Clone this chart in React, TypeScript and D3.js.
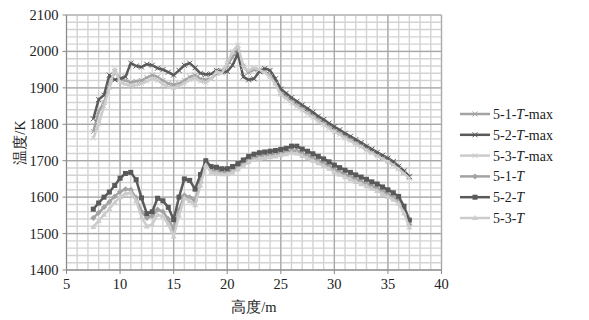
import React from "react";
import * as d3 from "d3";

const heights = [7.5,8,8.5,9,9.5,10,10.5,11,11.5,12,12.5,13,13.5,14,14.5,15,15.5,16,16.5,17,17.5,18,18.5,19,19.5,20,20.5,21,21.5,22,22.5,23,23.5,24,24.5,25,25.5,26,26.5,27,27.5,28,28.5,29,29.5,30,30.5,31,31.5,32,32.5,33,33.5,34,34.5,35,35.5,36,36.5,37];

const t51max = [1780,1835,1860,1905,1945,1925,1920,1915,1918,1920,1928,1935,1930,1920,1912,1908,1912,1920,1930,1935,1925,1922,1925,1940,1948,1962,1985,2005,1960,1942,1950,1948,1945,1935,1915,1888,1877,1866,1856,1846,1836,1826,1815,1806,1796,1786,1778,1768,1760,1751,1743,1734,1726,1717,1709,1701,1692,1680,1668,1655];
const t52max = [1815,1868,1880,1935,1922,1925,1930,1968,1960,1957,1965,1962,1954,1950,1943,1935,1948,1962,1968,1955,1940,1937,1938,1948,1944,1945,1962,1995,1930,1922,1925,1945,1953,1948,1925,1897,1885,1873,1863,1853,1843,1833,1822,1813,1803,1793,1785,1775,1767,1758,1750,1740,1732,1723,1715,1707,1698,1685,1672,1657];
const t53max = [1762,1800,1850,1900,1952,1915,1910,1905,1908,1912,1918,1925,1920,1910,1903,1900,1905,1913,1922,1928,1918,1915,1925,1945,1940,1968,2000,2018,1955,1948,1955,1950,1942,1930,1910,1882,1870,1859,1849,1839,1829,1819,1808,1799,1789,1780,1772,1762,1754,1746,1738,1729,1721,1713,1705,1697,1688,1677,1665,1652];
const t51 = [1543,1557,1572,1587,1602,1615,1622,1620,1598,1560,1543,1548,1566,1560,1540,1512,1565,1605,1600,1590,1640,1694,1674,1672,1668,1668,1674,1682,1692,1702,1708,1712,1714,1716,1718,1721,1724,1728,1727,1720,1714,1707,1700,1693,1685,1676,1669,1662,1656,1649,1643,1637,1630,1624,1616,1608,1600,1590,1563,1525];
const t52 = [1567,1584,1600,1614,1632,1652,1665,1668,1648,1598,1555,1560,1597,1590,1572,1538,1600,1650,1646,1622,1662,1700,1684,1682,1678,1678,1684,1692,1702,1712,1718,1722,1724,1726,1728,1731,1734,1740,1740,1732,1726,1719,1712,1705,1697,1688,1681,1674,1668,1661,1655,1649,1642,1636,1628,1620,1612,1602,1575,1537];
const t53 = [1518,1535,1552,1568,1585,1600,1610,1612,1590,1545,1520,1525,1552,1548,1525,1492,1550,1597,1590,1578,1632,1688,1668,1666,1663,1663,1668,1676,1686,1696,1702,1706,1708,1710,1712,1715,1718,1722,1720,1713,1707,1700,1693,1686,1678,1669,1662,1655,1649,1642,1636,1630,1623,1617,1609,1601,1593,1583,1556,1517];

const xTicks = [5,10,15,20,25,30,35,40];
const yTicks = [1400,1500,1600,1700,1800,1900,2000,2100];
const seriesNames = ["5-1-", "5-2-", "5-3-", "5-1-", "5-2-", "5-3-"];
const seriesSuffix = ["-max", "-max", "-max", "", "", ""];

const W = 589, H = 320;
const X0 = 66.5, X1 = 441.5, Y0 = 15, Y1 = 270;

const series = [
  { vals: t51max, color: "#a3a3a3", marker: "x" },
  { vals: t52max, color: "#5a5a5a", marker: "x" },
  { vals: t53max, color: "#cccccc", marker: "x" },
  { vals: t51, color: "#a3a3a3", marker: "diamond" },
  { vals: t52, color: "#5a5a5a", marker: "square" },
  { vals: t53, color: "#cccccc", marker: "triangle" },
];

function Marker({ type, x, y, color }: { type: string; x: number; y: number; color: string }) {
  if (type === "x") {
    const s = 2.5;
    return (
      <path d={`M${x - s},${y - s}L${x + s},${y + s}M${x - s},${y + s}L${x + s},${y - s}`} stroke={color} strokeWidth={1} fill="none" />
    );
  }
  if (type === "square") {
    return <rect x={x - 2.5} y={y - 2.5} width={5} height={5} fill={color} />;
  }
  if (type === "diamond") {
    const s = 3;
    return <path d={`M${x},${y - s}L${x + s},${y}L${x},${y + s}L${x - s},${y}Z`} fill={color} />;
  }
  const s = 3;
  return <path d={`M${x},${y - s}L${x + s},${y + s * 0.7}L${x - s},${y + s * 0.7}Z`} fill={color} />;
}

export default function App() {
  const x = d3.scaleLinear().domain([5, 40]).range([X0, X1]);
  const y = d3.scaleLinear().domain([1400, 2100]).range([Y1, Y0]);
  const minorX = d3.range(5, 41, 1);
  const minorY = d3.range(1400, 2101, 20);
  const line = d3.line<number>().x((_, i) => x(heights[i])).y((v) => y(v));
  const font = "'Liberation Serif', 'Times New Roman', serif";

  return (
    <svg width={W} height={H} style={{ position: "absolute", left: 0, top: 0, background: "#fff" }} fontFamily={font}>
      <rect width={W} height={H} fill="#fff" />
      {minorX.map((v) => (
        <line key={"mx" + v} x1={x(v)} x2={x(v)} y1={Y0} y2={Y1} stroke="#d3d3d3" strokeWidth={1.4} />
      ))}
      {minorY.map((v) => (
        <line key={"my" + v} x1={X0} x2={X1} y1={y(v)} y2={y(v)} stroke="#d3d3d3" strokeWidth={1.4} />
      ))}
      {xTicks.map((v) => (
        <line key={"Mx" + v} x1={x(v)} x2={x(v)} y1={Y0} y2={Y1} stroke="#a8a8a8" strokeWidth={1.2} />
      ))}
      {yTicks.map((v) => (
        <line key={"My" + v} x1={X0} x2={X1} y1={y(v)} y2={y(v)} stroke="#a8a8a8" strokeWidth={1.2} />
      ))}
      <line x1={X0} x2={X0} y1={Y0} y2={Y1} stroke="#8a8a8a" />
      <line x1={X0} x2={X1} y1={Y1} y2={Y1} stroke="#8a8a8a" />
      {xTicks.map((v) => (
        <g key={"tx" + v}>
          <line x1={x(v)} x2={x(v)} y1={Y1} y2={Y1 + 4} stroke="#8a8a8a" />
          <text x={x(v)} y={Y1 + 19} textAnchor="middle" fontSize={14.5} fill="#222">{v}</text>
        </g>
      ))}
      {yTicks.map((v) => (
        <g key={"ty" + v}>
          <line x1={X0 - 4} x2={X0} y1={y(v)} y2={y(v)} stroke="#8a8a8a" />
          <text x={X0 - 8} y={y(v) + 5} textAnchor="end" fontSize={14.5} fill="#222">{v}</text>
        </g>
      ))}
      <text x={(X0 + X1) / 2} y={312} textAnchor="middle" fontSize={14.5} fill="#222">高度/m</text>
      <text transform={`translate(25,${(Y0 + Y1) / 2}) rotate(-90)`} textAnchor="middle" fontSize={14.5} fill="#222">温度/K</text>

      {series.map((s, si) => (
        <g key={"s" + si}>
          <path d={line(s.vals) || ""} fill="none" stroke={s.color} strokeWidth={2.5} strokeLinejoin="round" />
          {s.vals.map((v, i) => (
            <Marker key={i} type={s.marker} x={x(heights[i])} y={y(v)} color={s.color} />
          ))}
        </g>
      ))}

      {series.map((s, si) => {
        const ly = 114 + si * 20.8;
        return (
          <g key={"l" + si}>
            <line x1={460} x2={490} y1={ly} y2={ly} stroke={s.color} strokeWidth={2.5} />
            <Marker type={s.marker} x={475} y={ly} color={s.color} />
            <text x={493} y={ly + 5} fontSize={14} fill="#222">
              {seriesNames[si]}
              <tspan fontStyle="italic">T</tspan>
              {seriesSuffix[si]}
            </text>
          </g>
        );
      })}
    </svg>
  );
}
